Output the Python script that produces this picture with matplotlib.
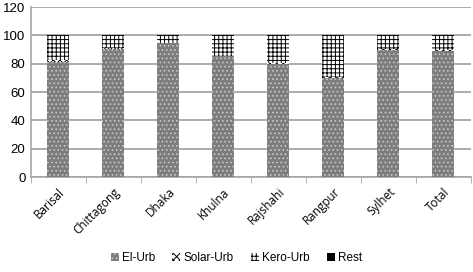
import matplotlib
matplotlib.use("Agg")
import matplotlib.pyplot as plt
import numpy as np

regions = ["Barisal", "Chittagong", "Dhaka", "Khulna", "Rajshahi", "Rangpur", "Sylhet", "Total"]
el_urb = [81, 90.5, 94.5, 85.5, 80, 70, 89.5, 89]
solar_urb = [1.5, 0.3, 0.2, 0.3, 0.5, 0.3, 1, 0.5]
kero_urb = [17.5, 9.2, 5.3, 14.2, 19.5, 29.7, 9.5, 10.5]
rest = [0, 0, 0, 0, 0, 0, 0, 0]
yticks = [0, 20, 40, 60, 80, 100, 120]

plt.rcParams["hatch.linewidth"] = 0.7

fig = plt.figure(figsize=(4.73, 2.72), dpi=100)
ax = fig.add_axes([0.0655, 0.349, 0.93, 0.625])

x = np.arange(len(regions))
w = 0.4
bottom = np.zeros(len(regions))
styles = [
    ("El-Urb", el_urb, "#7d7d7d", "#c8c8c8", "...."),
    ("Solar-Urb", solar_urb, "white", "black", "xxxxx"),
    ("Kero-Urb", kero_urb, "white", "black", "++++"),
    ("Rest", rest, "black", "black", None),
]
for name, vals, fc, ec, hatch in styles:
    ax.bar(x, vals, w, bottom=bottom, color=fc, edgecolor=ec, hatch=hatch,
           linewidth=0, label=name, zorder=3)
    bottom += np.array(vals)

ax.set_xlim(-0.5, len(regions) - 0.5)
ax.set_ylim(0, 120)
ax.set_yticks(yticks)
ax.yaxis.grid(True, color="#a6a6a6", linewidth=1.3, zorder=0)
ax.set_axisbelow(True)
ax.tick_params(axis="y", length=0, labelsize=9.5, pad=4)
for lbl in ax.get_yticklabels():
    lbl.set_family("Liberation Sans")

ax.set_xticks(x)
ax.set_xticklabels(regions, rotation=45, ha="right", rotation_mode="anchor",
                   family="Open Sans", fontsize=8.5)
ax.set_xticks(np.arange(len(regions) + 1) - 0.5, minor=True)
ax.tick_params(axis="x", which="major", length=0, pad=6)
ax.tick_params(axis="x", which="minor", length=4, color="#a6a6a6")

for s in ["top", "right"]:
    ax.spines[s].set_visible(False)
for s in ["left", "bottom"]:
    ax.spines[s].set_color("#a6a6a6")
    ax.spines[s].set_linewidth(1.2)

leg = fig.legend(loc="center", bbox_to_anchor=(0.5, 0.05), ncol=4, frameon=False,
                 prop={"family": "Liberation Sans", "size": 8.5},
                 handlelength=0.7, handleheight=0.7, handletextpad=0.3,
                 columnspacing=1.4)

fig.savefig("out.png", dpi=100)
